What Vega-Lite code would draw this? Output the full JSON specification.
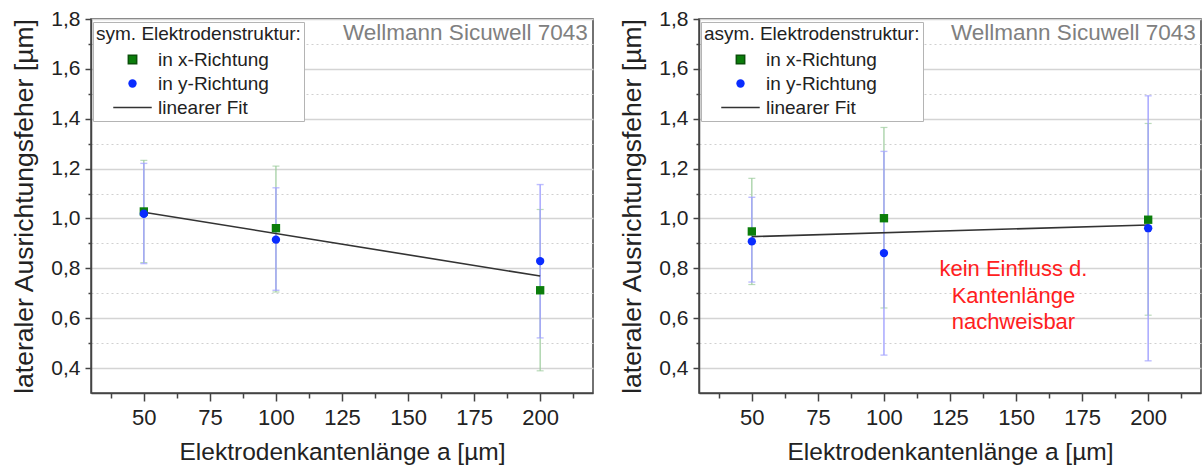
{
  "$schema": "https://vega.github.io/schema/vega-lite/v6.json",
  "padding": {"left": 11, "top": 7, "right": 0, "bottom": 0},
  "background": "white",
  "datasets": {
    "points": [
      {"panel": "sym", "dir": "in x-Richtung", "a": 50, "val": 1.028, "lo": 0.823, "hi": 1.233},
      {"panel": "sym", "dir": "in x-Richtung", "a": 100, "val": 0.961, "lo": 0.705, "hi": 1.21},
      {"panel": "sym", "dir": "in x-Richtung", "a": 200, "val": 0.712, "lo": 0.389, "hi": 1.036},
      {"panel": "sym", "dir": "in y-Richtung", "a": 50, "val": 1.019, "lo": 0.819, "hi": 1.221},
      {"panel": "sym", "dir": "in y-Richtung", "a": 100, "val": 0.915, "lo": 0.712, "hi": 1.123},
      {"panel": "sym", "dir": "in y-Richtung", "a": 200, "val": 0.829, "lo": 0.521, "hi": 1.136},
      {"panel": "asym", "dir": "in x-Richtung", "a": 50, "val": 0.948, "lo": 0.735, "hi": 1.161},
      {"panel": "asym", "dir": "in x-Richtung", "a": 100, "val": 1.001, "lo": 0.641, "hi": 1.365},
      {"panel": "asym", "dir": "in x-Richtung", "a": 200, "val": 0.995, "lo": 0.612, "hi": 1.381},
      {"panel": "asym", "dir": "in y-Richtung", "a": 50, "val": 0.908, "lo": 0.745, "hi": 1.085},
      {"panel": "asym", "dir": "in y-Richtung", "a": 100, "val": 0.861, "lo": 0.452, "hi": 1.269},
      {"panel": "asym", "dir": "in y-Richtung", "a": 200, "val": 0.961, "lo": 0.429, "hi": 1.492}
    ],
    "fit": [
      {"panel": "sym", "a": 50, "fit": 1.025},
      {"panel": "sym", "a": 200, "fit": 0.769},
      {"panel": "asym", "a": 50, "fit": 0.927},
      {"panel": "asym", "a": 200, "fit": 0.974}
    ]
  },
  "config": {
    "font": "Liberation Sans",
    "view": {"stroke": "#444444", "strokeWidth": 1.5},
    "axis": {
      "domainColor": "#444444", "domainWidth": 1.5,
      "tickColor": "#444444", "tickWidth": 1.5,
      "labelColor": "#222222", "titleColor": "#222222",
      "labelFont": "Liberation Sans", "titleFont": "Liberation Sans",
      "titleFontWeight": "normal", "labelOverlap": false, "labelFlush": false
    }
  },
  "spacing": 25,
  "resolve": {
    "scale": {"color": "independent", "shape": "independent"},
    "legend": {"color": "independent", "shape": "independent"}
  },
  "hconcat": [
    {
      "width": 502, "height": 374,
      "resolve": {"axis": {"x": "independent", "y": "independent"}},
      "layer": [
        {
          "data": {"name": "points"},
          "transform": [{"filter": "datum.panel === 'sym' && datum.dir === 'in x-Richtung'"}],
          "mark": {"type": "errorbar", "ticks": true, "size": 7, "thickness": 1.2, "color": "#9ccc9c"},
          "encoding": {
            "x": {"field": "a", "type": "quantitative", "scale": {"domain": [30, 220], "nice": false, "zero": false},
              "axis": {"orient": "bottom", "values": [50, 75, 100, 125, 150, 175, 200], "grid": false, "tickSize": 8,
                "labelFontSize": 22, "labelPadding": 6, "titleFontSize": 24.5, "titlePadding": 12},
              "title": "Elektrodenkantenlänge a [µm]"},
            "y": {"field": "lo", "type": "quantitative", "scale": {"domain": [0.3, 1.8], "nice": false, "zero": false},
              "axis": {"orient": "left", "values": [0.4, 0.6, 0.8, 1.0, 1.2, 1.4, 1.6, 1.8], "grid": true, "gridColor": "#d4d4d4", "gridWidth": 1.5,
                "tickSize": 6, "labelFontSize": 21, "labelPadding": 5, "titleFontSize": 26.5, "titlePadding": 12,
                "labelExpr": "replace(format(datum.value, '.1f'), '.', ',')"},
              "title": "lateraler Ausrichtungsfeher [µm]"},
            "y2": {"field": "hi"}
          }
        },
        {
          "data": {"name": "points"},
          "transform": [{"filter": "datum.panel === 'sym' && datum.dir === 'in y-Richtung'"}],
          "mark": {"type": "errorbar", "ticks": true, "size": 7, "thickness": 1.4, "color": "#a2a2ff"},
          "encoding": {
            "x": {"field": "a", "type": "quantitative", "axis": null},
            "y": {"field": "lo", "type": "quantitative", "axis": null},
            "y2": {"field": "hi"}
          }
        },
        {
          "data": {"name": "fit"},
          "transform": [{"filter": "datum.panel === 'sym'"}],
          "mark": {"type": "line", "strokeWidth": 1.6, "color": "#333333"},
          "encoding": {
            "x": {"field": "a", "type": "quantitative",
              "axis": {"orient": "bottom", "values": [37.5, 62.5, 87.5, 112.5, 137.5, 162.5, 187.5, 212.5], "grid": false, "tickSize": 5,
                "labels": false, "domain": false, "title": null}},
            "y": {"field": "fit", "type": "quantitative",
              "axis": {"orient": "left", "values": [0.5, 0.7, 0.9, 1.1, 1.3, 1.5, 1.7], "grid": true, "gridColor": "#d0d0d0", "gridWidth": 1,
                "gridDash": [2, 3], "tickSize": 3, "labels": false, "domain": false, "title": null}}
          }
        },
        {
          "data": {"name": "points"},
          "transform": [{"filter": "datum.panel === 'sym'"}],
          "mark": {"type": "point", "filled": true, "opacity": 1, "size": 70},
          "encoding": {
            "x": {"field": "a", "type": "quantitative", "axis": null},
            "y": {"field": "val", "type": "quantitative", "axis": null},
            "order": {"field": "dir"},
            "color": {"field": "dir", "type": "nominal", "title": "sym. Elektrodenstruktur:",
              "scale": {"domain": ["in x-Richtung", "in y-Richtung", "linearer Fit"], "range": ["#0b7d0b", "#0a2cff", "#333333"]},
              "legend": {"orient": "none", "legendX": 2, "legendY": 3, "padding": 3, "fillColor": "white", "strokeColor": "#b4b4b4",
                "titleFontSize": 19, "titleFontWeight": "normal", "titleColor": "#222222", "titlePadding": 6, "titleLimit": 400,
                "labelFontSize": 19, "labelColor": "#222222", "labelLimit": 300, "symbolSize": 70, "symbolOffset": 27, "labelOffset": 16, "rowPadding": 4,
                "symbolStrokeColor": {"expr": "datum.value === 'linearer Fit' ? '#333333' : (datum.value === 'in x-Richtung' ? '#0a500a' : 'transparent')"},
                "symbolStrokeWidth": 1.5}},
            "shape": {"field": "dir", "type": "nominal", "title": "sym. Elektrodenstruktur:",
              "scale": {"domain": ["in x-Richtung", "in y-Richtung", "linearer Fit"], "range": ["square", "circle", "M-4.6,0H4.6"]}}
          }
        },
        {
          "data": {"values": [{}]},
          "mark": {"type": "text", "align": "right", "baseline": "middle", "fontSize": 22.5, "color": "#808080", "text": "Wellmann Sicuwell 7043"},
          "encoding": {"x": {"datum": 218, "axis": null}, "y": {"datum": 1.742, "axis": null}}
        }
      ]
    },
    {
      "width": 502, "height": 374,
      "resolve": {"axis": {"x": "independent", "y": "independent"}},
      "layer": [
        {
          "data": {"name": "points"},
          "transform": [{"filter": "datum.panel === 'asym' && datum.dir === 'in x-Richtung'"}],
          "mark": {"type": "errorbar", "ticks": true, "size": 7, "thickness": 1.2, "color": "#9ccc9c"},
          "encoding": {
            "x": {"field": "a", "type": "quantitative", "scale": {"domain": [30, 220], "nice": false, "zero": false},
              "axis": {"orient": "bottom", "values": [50, 75, 100, 125, 150, 175, 200], "grid": false, "tickSize": 8,
                "labelFontSize": 22, "labelPadding": 6, "titleFontSize": 24.5, "titlePadding": 12},
              "title": "Elektrodenkantenlänge a [µm]"},
            "y": {"field": "lo", "type": "quantitative", "scale": {"domain": [0.3, 1.8], "nice": false, "zero": false},
              "axis": {"orient": "left", "values": [0.4, 0.6, 0.8, 1.0, 1.2, 1.4, 1.6, 1.8], "grid": true, "gridColor": "#d4d4d4", "gridWidth": 1.5,
                "tickSize": 6, "labelFontSize": 21, "labelPadding": 5, "titleFontSize": 26.5, "titlePadding": 12,
                "labelExpr": "replace(format(datum.value, '.1f'), '.', ',')"},
              "title": "lateraler Ausrichtungsfeher [µm]"},
            "y2": {"field": "hi"}
          }
        },
        {
          "data": {"name": "points"},
          "transform": [{"filter": "datum.panel === 'asym' && datum.dir === 'in y-Richtung'"}],
          "mark": {"type": "errorbar", "ticks": true, "size": 7, "thickness": 1.4, "color": "#a2a2ff"},
          "encoding": {
            "x": {"field": "a", "type": "quantitative", "axis": null},
            "y": {"field": "lo", "type": "quantitative", "axis": null},
            "y2": {"field": "hi"}
          }
        },
        {
          "data": {"name": "fit"},
          "transform": [{"filter": "datum.panel === 'asym'"}],
          "mark": {"type": "line", "strokeWidth": 1.6, "color": "#333333"},
          "encoding": {
            "x": {"field": "a", "type": "quantitative",
              "axis": {"orient": "bottom", "values": [37.5, 62.5, 87.5, 112.5, 137.5, 162.5, 187.5, 212.5], "grid": false, "tickSize": 5,
                "labels": false, "domain": false, "title": null}},
            "y": {"field": "fit", "type": "quantitative",
              "axis": {"orient": "left", "values": [0.5, 0.7, 0.9, 1.1, 1.3, 1.5, 1.7], "grid": true, "gridColor": "#d0d0d0", "gridWidth": 1,
                "gridDash": [2, 3], "tickSize": 3, "labels": false, "domain": false, "title": null}}
          }
        },
        {
          "data": {"name": "points"},
          "transform": [{"filter": "datum.panel === 'asym'"}],
          "mark": {"type": "point", "filled": true, "opacity": 1, "size": 70},
          "encoding": {
            "x": {"field": "a", "type": "quantitative", "axis": null},
            "y": {"field": "val", "type": "quantitative", "axis": null},
            "order": {"field": "dir"},
            "color": {"field": "dir", "type": "nominal", "title": "asym. Elektrodenstruktur:",
              "scale": {"domain": ["in x-Richtung", "in y-Richtung", "linearer Fit"], "range": ["#0b7d0b", "#0a2cff", "#333333"]},
              "legend": {"orient": "none", "legendX": 2, "legendY": 3, "padding": 3, "fillColor": "white", "strokeColor": "#b4b4b4",
                "titleFontSize": 19, "titleFontWeight": "normal", "titleColor": "#222222", "titlePadding": 6, "titleLimit": 400,
                "labelFontSize": 19, "labelColor": "#222222", "labelLimit": 300, "symbolSize": 70, "symbolOffset": 27, "labelOffset": 16, "rowPadding": 4,
                "symbolStrokeColor": {"expr": "datum.value === 'linearer Fit' ? '#333333' : (datum.value === 'in x-Richtung' ? '#0a500a' : 'transparent')"},
                "symbolStrokeWidth": 1.5}},
            "shape": {"field": "dir", "type": "nominal", "title": "asym. Elektrodenstruktur:",
              "scale": {"domain": ["in x-Richtung", "in y-Richtung", "linearer Fit"], "range": ["square", "circle", "M-4.6,0H4.6"]}}
          }
        },
        {
          "data": {"values": [{}]},
          "mark": {"type": "text", "align": "right", "baseline": "middle", "fontSize": 22.5, "color": "#808080", "text": "Wellmann Sicuwell 7043"},
          "encoding": {"x": {"datum": 218, "axis": null}, "y": {"datum": 1.742, "axis": null}}
        },
        {
          "data": {"values": [{}]},
          "mark": {"type": "text", "align": "center", "baseline": "middle", "fontSize": 22, "lineHeight": 26.5, "color": "#ff2020",
            "text": ["kein Einfluss d.", "Kantenlänge", "nachweisbar"]},
          "encoding": {"x": {"datum": 149, "axis": null}, "y": {"datum": 0.796, "axis": null}}
        }
      ]
    }
  ]
}
